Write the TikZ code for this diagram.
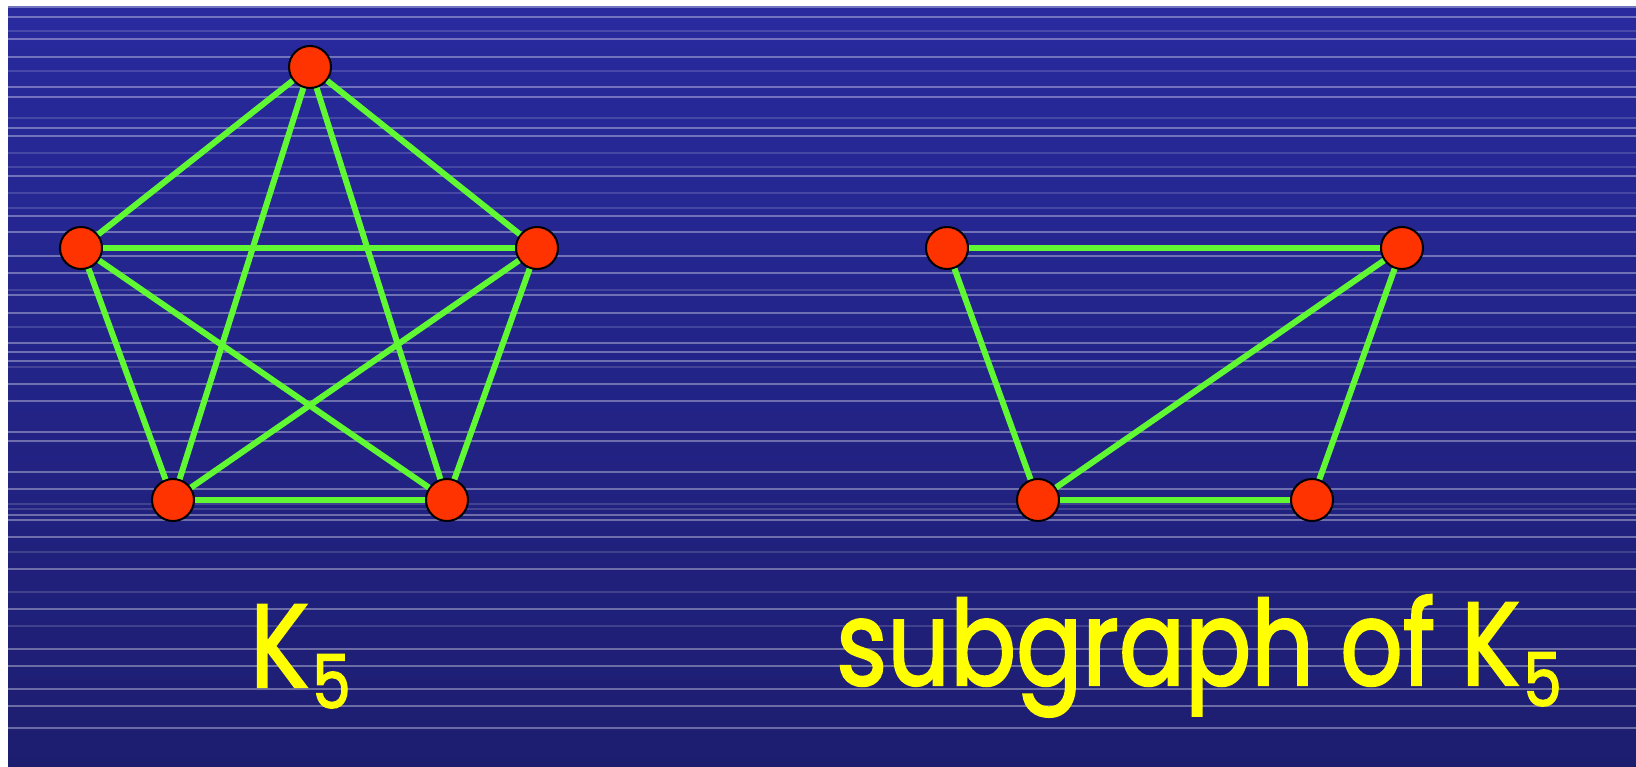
\documentclass[tikz,border=0pt]{standalone}
\usepackage{fontspec}
\usepackage{graphicx}
\newfontfamily\comicfont[FakeBold=2]{Poppins}
\usetikzlibrary{positioning}
\definecolor{bgtop}{HTML}{282A9E}
\definecolor{bgbot}{HTML}{1D1D70}
\definecolor{vertred}{HTML}{FF3300}
\definecolor{edgegreen}{HTML}{60F832}
\definecolor{labyellow}{HTML}{FFFF00}
\newcommand{\ksub}[1]{\hspace{4pt}\raisebox{-21pt}{\fontsize{74}{74}\selectfont #1}}
\newcommand{\squeeze}[1]{\scalebox{0.83}[1]{#1}}
\begin{document}
\begin{tikzpicture}[x=1pt,y=-1pt,
   vtx/.style={circle,draw=black,line width=2pt,fill=vertred,minimum size=42pt,inner sep=0pt},
   lnk/.style={draw=edgegreen,line width=6pt},
   lab/.style={text=labyellow,inner sep=0pt,anchor=base west,font=\comicfont\fontsize{118}{118}\selectfont},
   stripe/.style={white,opacity=.35,line width=2pt},
   faint/.style={white,opacity=.15,line width=2pt}
 ]
  \useasboundingbox (0,0) rectangle (1636,766);
  \fill[white] (0,0) rectangle (1636,766);
  \shade[top color=bgtop,bottom color=bgbot] (8,6) rectangle (1636,766);
  \foreach \y in {7,17,39,57,87,97,128,136,176,216,232,256,273,295,313,343,352,361,384,401,432,441,472,489,515,520,537,569,609,649,666,689,706,728}
    \draw[stripe] (8,\y) -- (1636,\y);
  \foreach \y in {31,71,118,153,167,193,208,290,327,367,504,509,552,592,626}
    \draw[faint] (8,\y) -- (1636,\y);

  \node[vtx] (kt) at (310,67) {};
  \node[vtx] (kl) at (81,248) {};
  \node[vtx] (kr) at (537,248) {};
  \node[vtx] (kbl) at (173,500) {};
  \node[vtx] (kbr) at (447,500) {};
  \draw[lnk] (kt) -- (kl);
  \draw[lnk] (kt) -- (kr);
  \draw[lnk] (kt) -- (kbl);
  \draw[lnk] (kt) -- (kbr);
  \draw[lnk] (kl) -- (kr);
  \draw[lnk] (kl) -- (kbl);
  \draw[lnk] (kl) -- (kbr);
  \draw[lnk] (kr) -- (kbl);
  \draw[lnk] (kr) -- (kbr);
  \draw[lnk] (kbl) -- (kbr);

  \node[vtx] (stl) at (947,248) {};
  \node[vtx] (str) at (1402,248) {};
  \node[vtx] (sbl) at (1038,500) {};
  \node[vtx] (sbr) at (1312,500) {};
  \draw[lnk] (stl) -- (str);
  \draw[lnk] (stl) -- (sbl);
  \draw[lnk] (str) -- (sbl);
  \draw[lnk] (str) -- (sbr);
  \draw[lnk] (sbl) -- (sbr);

  \node[lab] (kname) at (250,687) {\squeeze{K\ksub{5}}};
  \node[lab] (subname) at (836,685) {\squeeze{subgraph of K\ksub{5}}};
 \end{tikzpicture}
\end{document}
